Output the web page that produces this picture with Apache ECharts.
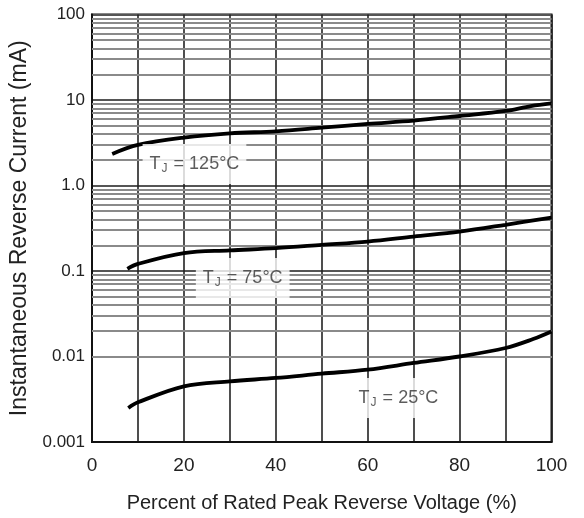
<!DOCTYPE html>
<html>
<head>
<meta charset="utf-8">
<script src="https://cdn.jsdelivr.net/npm/echarts@6/dist/echarts.min.js"></script>
<style>
html,body{margin:0;padding:0;background:#fff;}
#chart{width:584px;height:518px;}
</style>
</head>
<body>
<div id="chart"></div>
<script>
// ---- data ----
const x125 = [4.4, 10, 20, 30, 40, 50, 60, 70, 80, 90, 95.5, 100];
const y125 = [2.34, 2.98, 3.63, 4.08, 4.3, 4.74, 5.25, 5.73, 6.5, 7.44, 8.5, 9.15];
const x75 = [7.7, 10, 20, 30, 40, 50, 60, 70, 80, 90, 100];
const y75 = [0.106, 0.121, 0.162, 0.174, 0.185, 0.202, 0.221, 0.253, 0.289, 0.347, 0.422];
const x25 = [7.9, 10, 20, 30, 40, 50, 60, 70, 80, 90, 96, 100];
const y25 = [0.0025, 0.00291, 0.00448, 0.00512, 0.00561, 0.0063, 0.00701, 0.0084, 0.01, 0.01257, 0.016, 0.0196];
const curveNames = ['TJ = 125°C', 'TJ = 75°C', 'TJ = 25°C'];
const labelTemps = ['125', '75', '25'];
const labelX = [22.3, 32.8, 66.7];
const labelY = [1.79, 0.0826, 0.00327];
const yTickLabels = ['0.001', '0.01', '0.1', '1.0', '10', '100'];
const xTickLabels = ['0', '20', '40', '60', '80', '100'];
const minorMultipliers = [2, 3, 4, 5, 6, 7, 8, 9];
const decades = [0.001, 0.01, 0.1, 1, 10];
const xTitle = 'Percent of Rated Peak Reverse Voltage (%)';
const yTitle = 'Instantaneous Reverse Current (mA)';

// ---- build ----
const pairs = (xs, ys) => xs.map((x, i) => [x, ys[i]]);
const minorLines = [];
decades.forEach(d => minorMultipliers.forEach(m => minorLines.push({ yAxis: +(d * m).toPrecision(3) })));

const FONT = '"Liberation Sans", Arial, sans-serif';
const chart = echarts.init(document.getElementById('chart'), null, { renderer: 'canvas' });

const curveStyle = { color: '#000', width: 3.8 };
const mkCurve = (name, data, extra) => Object.assign({
  name, type: 'line', data, smooth: 0.35, showSymbol: false, symbol: 'none',
  lineStyle: curveStyle, itemStyle: { color: '#000' }, z: 5, silent: true
}, extra || {});

chart.setOption({
  animation: false,
  backgroundColor: '#fff',
  grid: { left: 92, right: 32.5, top: 14.5, bottom: 75.6, show: true, borderColor: '#111', borderWidth: 2 },
  xAxis: {
    type: 'value', min: 0, max: 100, interval: 10,
    name: xTitle, nameLocation: 'middle', nameGap: 51,
    nameTextStyle: { fontFamily: FONT, fontSize: 20, color: '#222' },
    axisLine: { show: true, lineStyle: { color: '#111', width: 2 } },
    axisTick: { show: false },
    axisLabel: {
      margin: 14, fontFamily: FONT, fontSize: 19, color: '#222',
      formatter: v => xTickLabels.includes(String(v)) ? String(v) : ''
    },
    splitLine: { show: true, lineStyle: { color: '#222', width: 1.6 } }
  },
  yAxis: {
    type: 'log', logBase: 10, min: 0.001, max: 100,
    name: yTitle, nameLocation: 'middle', nameGap: 53,
    nameTextStyle: { fontFamily: FONT, fontSize: 23, color: '#222' },
    axisLine: { show: true, lineStyle: { color: '#111', width: 2 } },
    axisTick: { show: false },
    axisLabel: {
      margin: 7, fontFamily: FONT, fontSize: 17, color: '#222',
      formatter: v => yTickLabels[Math.round(Math.log10(v)) + 3] || ''
    },
    splitLine: { show: true, lineStyle: { color: '#555', width: 2 } },
    minorSplitLine: { show: false }
  },
  series: [
    mkCurve(curveNames[0], pairs(x125, y125), {
      markLine: {
        silent: true, symbol: ['none', 'none'], label: { show: false },
        lineStyle: { color: '#8a8a8a', width: 1.8, type: 'solid' },
        data: minorLines, z: 1, animation: false
      }
    }),
    mkCurve(curveNames[1], pairs(x75, y75)),
    mkCurve(curveNames[2], pairs(x25, y25)),
    {
      name: 'labels', type: 'scatter', symbolSize: 0, z: 6, zlevel: 1, silent: true,
      data: labelX.map((x, i) => ({ value: [x, labelY[i]], temp: labelTemps[i] })),
      label: {
        show: true, position: 'inside',
        backgroundColor: '#fff', padding: [4, 7],
        formatter: p => '{t|T}{s|J}{t| = ' + p.data.temp + '°C}',
        rich: {
          t: { fontFamily: FONT, fontSize: 18, color: '#333', height: 22 },
          s: { fontFamily: FONT, fontSize: 12, color: '#333', height: 22, verticalAlign: 'bottom', padding: [10, 1, 0, 1] }
        }
      }
    }
  ]
});
</script>
</body>
</html>
